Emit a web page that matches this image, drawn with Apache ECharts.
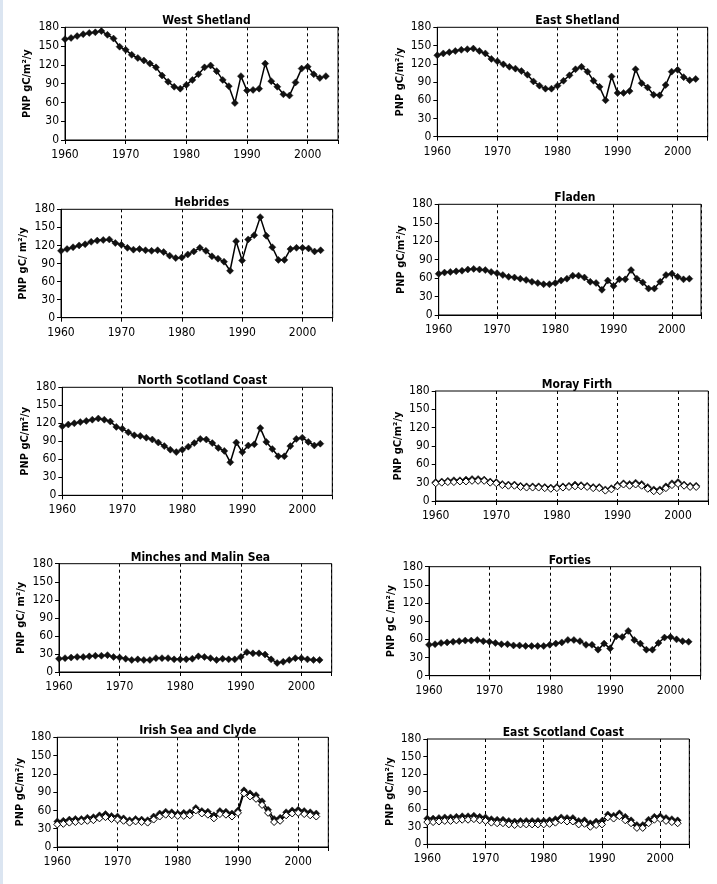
<!DOCTYPE html>
<html><head><meta charset="utf-8">
<script src="https://cdn.jsdelivr.net/npm/echarts@6/dist/echarts.min.js"></script>
<style>html,body{margin:0;padding:0;background:#fff}#c{width:717px;height:884px}</style>
</head><body><div id="c"></div>
<script>
const years = [1960,1961,1962,1963,1964,1965,1966,1967,1968,1969,1970,1971,1972,1973,1974,1975,1976,1977,1978,1979,1980,1981,1982,1983,1984,1985,1986,1987,1988,1989,1990,1991,1992,1993,1994,1995,1996,1997,1998,1999,2000,2001,2002,2003];
const xTicks = [1960,1970,1980,1990,2000];
const yTicks = [0,30,60,90,120,150,180];

const westShetland = [161,163,166,169,171,172,174,168,162,149,144,136,131,127,122,116,103,93,85,82,88,96,105,116,119,110,96,86,59,102,79,80,82,122,94,85,73,71,92,114,117,105,99,102];
const eastShetland = [134,137,139,141,143,144,145,141,137,128,124,119,115,112,108,102,91,84,79,79,84,92,101,111,115,107,92,82,60,99,72,72,75,111,88,81,69,68,85,107,110,98,93,95];
const hebrides = [111,114,117,120,122,126,128,129,130,124,121,116,113,114,112,111,112,109,103,99,100,105,110,116,111,102,98,93,78,127,95,130,137,167,136,117,96,96,114,116,116,115,110,112];
const fladen = [67,69,70,71,72,74,75,74,73,70,68,65,62,61,59,57,54,52,50,50,52,56,59,64,64,61,54,52,41,56,47,58,58,73,59,53,43,43,54,65,67,62,58,59];
const northScotland = [115,118,120,122,124,126,128,126,123,114,111,105,100,99,96,93,88,82,76,72,76,81,87,94,93,87,79,74,55,88,72,83,85,112,89,77,65,65,82,94,96,89,83,86];
const morayFilled = [31,32,33,34,34,35,36,36,35,32,31,28,27,27,25,24,24,24,23,22,23,24,25,27,26,25,23,23,19,21,26,29,28,30,28,23,19,19,24,29,31,27,25,25];
const morayOpen = [29,30,31,31,32,32,33,33,33,30,29,26,25,25,23,22,22,22,21,20,21,22,23,24,24,23,21,21,17,19,24,27,25,27,25,20,16,16,21,26,28,25,23,23];
const minches = [22,23,24,25,25,26,27,27,28,25,24,22,20,21,20,20,23,23,23,21,21,21,22,26,25,23,20,22,21,21,25,33,31,31,29,21,15,17,20,23,23,21,20,20];
const forties = [51,52,54,55,56,57,58,58,59,57,56,54,52,52,50,50,49,49,49,49,51,53,55,59,59,57,51,51,43,53,45,65,64,74,59,53,43,43,54,63,64,60,57,56];
const irishFilled = [42,43,45,46,46,48,49,52,54,51,50,47,44,46,45,44,50,55,58,57,55,56,57,64,59,58,52,59,58,55,60,93,88,85,75,61,46,48,57,60,61,59,57,55];
const irishOpen = [37,38,40,41,42,43,44,47,49,46,45,43,40,42,41,40,45,50,53,52,51,51,52,60,55,53,47,54,53,50,56,88,83,79,69,56,41,43,52,55,56,54,52,50];
const eastScotFilled = [44,44,45,46,46,47,48,48,49,47,46,43,42,42,40,39,40,40,40,40,40,41,43,46,45,45,40,41,36,39,40,51,49,53,47,41,33,33,42,47,48,45,43,41];
const eastScotOpen = [38,38,39,40,40,41,42,42,43,41,40,37,36,36,34,33,34,34,34,34,34,35,37,41,39,39,34,35,30,33,34,46,44,48,41,36,28,28,36,42,43,40,38,36];

const titles = ['West Shetland','East Shetland','Hebrides','Fladen','North Scotland Coast','Moray Firth','Minches and Malin Sea','Forties','Irish Sea and Clyde','East Scotland Coast'];
const yNames = ['PNP gC/m²/y','PNP gC/m²/y','PNP gC/ m²/y','PNP gC/m²/y','PNP gC/m²/y','PNP gC/m²/y','PNP gC/ m²/y','PNP gC /m²/y','PNP gC/m²/y','PNP gC/m²/y'];
const filledSeries = [westShetland,eastShetland,hebrides,fladen,northScotland,morayFilled,minches,forties,irishFilled,eastScotFilled];
const openSeries = [null,null,null,null,null,morayOpen,null,null,irishOpen,eastScotOpen];

const layout = [
  [65,27.3,273,112.7],[437.3,27.3,270.4,109.4],
  [61,209.3,271.7,108.4],[438.7,204.3,262.3,110.7],
  [62.3,387.3,270,108],[435.7,391,272.6,110],
  [59,563.7,272.7,108.3],[429,566.7,271.7,109],
  [57.3,737.3,271,109.7],[427.3,739,262,105.3]
];

const FONT = "'Liberation Sans Narrow','DejaVu Sans Condensed',sans-serif";
const grid=[],xAxis=[],yAxis=[],series=[],title=[];
layout.forEach((g,i)=>{
  const [l,t,w,h]=g;
  grid.push({left:l,top:t,width:w,height:h,show:true,borderColor:'#000',borderWidth:1,backgroundColor:'#fff',containLabel:false});
  title.push({text:titles[i],left:l+w/2,top:t-17,textAlign:'center',textStyle:{fontFamily:FONT,fontWeight:'bold',fontSize:12,color:'#000'}});
  xAxis.push({gridIndex:i,type:'value',min:xTicks[0],max:2005,interval:10,
    axisLine:{show:true,onZero:false,lineStyle:{color:'#000',width:1}},
    axisTick:{show:true,length:4,inside:false,lineStyle:{color:'#000'}},
    axisLabel:{color:'#000',fontFamily:FONT,fontSize:12,margin:9,formatter:v=>xTicks.includes(v)?String(v):''},
    splitLine:{show:true,lineStyle:{color:'#000',type:[3,3],width:1}}});
  yAxis.push({gridIndex:i,type:'value',min:yTicks[0],max:yTicks[yTicks.length-1],interval:30,
    axisLine:{show:true,lineStyle:{color:'#000',width:1}},
    axisTick:{show:true,length:4,inside:false,lineStyle:{color:'#000'}},
    axisLabel:{color:'#000',fontFamily:FONT,fontSize:12,margin:6},
    splitLine:{show:false},
    name:yNames[i],nameLocation:'middle',nameGap:32,
    nameTextStyle:{fontFamily:FONT,fontWeight:'bold',fontSize:11,color:'#000'}});
  series.push({type:'line',xAxisIndex:i,yAxisIndex:i,data:years.map((y,k)=>[y,filledSeries[i][k]]),
    symbol:'diamond',symbolSize:7,showSymbol:true,animation:false,
    lineStyle:{color:'#000',width:1.5},itemStyle:{color:'#111',borderColor:'#111',borderWidth:0.5},z:3});
  if(openSeries[i]){
    series.push({type:'line',xAxisIndex:i,yAxisIndex:i,data:years.map((y,k)=>[y,openSeries[i][k]]),
      symbol:'diamond',symbolSize:7,showSymbol:true,animation:false,
      lineStyle:{color:'#000',width:1.2},itemStyle:{color:'#fff',borderColor:'#000',borderWidth:1},z:4});
  }
});

const chart = echarts.init(document.getElementById('c'),null,{renderer:'canvas'});
chart.setOption({
  backgroundColor:'#fff',animation:false,
  title,grid,xAxis,yAxis,series,
  graphic:[{type:'rect',left:0,top:0,shape:{width:3,height:884},style:{fill:'#dbe5f1'},silent:true}]
});
</script></body></html>
